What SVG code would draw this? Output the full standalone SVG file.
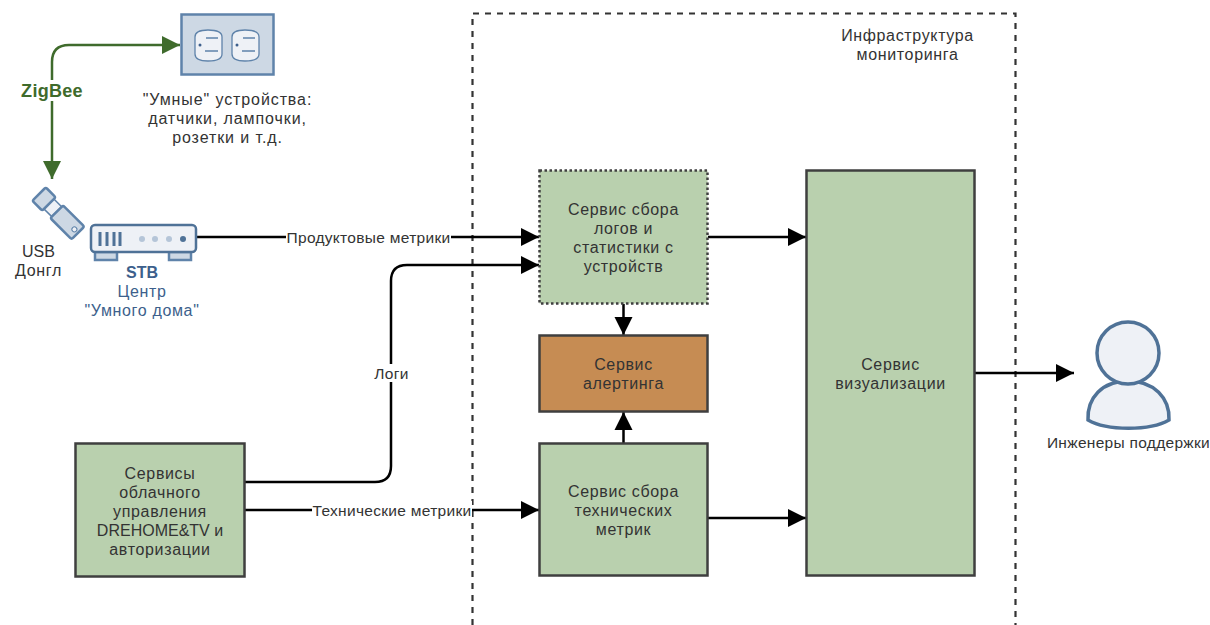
<svg xmlns="http://www.w3.org/2000/svg" width="1210" height="625" viewBox="0 0 1210 625">
<defs>
<style>
text{font-family:"Liberation Sans",Arial,sans-serif;font-size:16px;fill:#333;text-anchor:middle;letter-spacing:.65px}
.e{font-size:15.500px;letter-spacing:.3px}
.d{letter-spacing:.9px}
.n{letter-spacing:0}
.box{fill:#b9d0ae;stroke:#3f3f3f;stroke-width:2.500}
.c{fill:none;stroke:#000;stroke-width:2.500}
.g{fill:none;stroke:#3f6b2c;stroke-width:2.500}
.ic{fill:#eef1f6;stroke:#4f7297;stroke-width:2.500}
.bl{fill:#cdd8e4;stroke:#5f83aa;stroke-width:2.500}
.lb{fill:#fff;stroke:none}
.blue{fill:#3d5f8c}
</style>
<marker id="a" markerUnits="userSpaceOnUse" markerWidth="19" markerHeight="20" refX="18" refY="10" orient="auto"><path d="M0 1L18 10L0 19Z" fill="#000"/></marker>
<marker id="ag" markerUnits="userSpaceOnUse" markerWidth="19" markerHeight="20" refX="18" refY="10" orient="auto"><path d="M0 1L18 10L0 19Z" fill="#3f6b2c"/></marker>
</defs>
<rect width="1210" height="625" fill="#fff"/>
<path id="infra-frame" d="M472.500 625V13.500H1015.500V625" fill="none" stroke="#333" stroke-width="2.200" stroke-dasharray="6 6"/>
<g id="connectors">
<path class="g" d="M52 100V62Q52 45 69 45H180" marker-end="url(#ag)"/>
<path class="g" d="M52 100V179" marker-end="url(#ag)"/>
<path class="c" d="M196 237H539" marker-end="url(#a)"/>
<path class="c" d="M245 482H375Q391 482 391 466V281Q391 265 407 265H539" marker-end="url(#a)"/>
<path class="c" d="M245 510H539" marker-end="url(#a)"/>
<path class="c" d="M708 237H806" marker-end="url(#a)"/>
<path class="c" d="M708 518H806" marker-end="url(#a)"/>
<path class="c" d="M623.500 304V335" marker-end="url(#a)"/>
<path class="c" d="M623.500 443V412" marker-end="url(#a)"/>
<path class="c" d="M975 373H1074" marker-end="url(#a)"/>
</g>
<g id="edge-labels">
<rect class="lb" x="18" y="80" width="68" height="21"/>
<text x="52" y="97" style="font-weight:bold;font-size:18px;letter-spacing:.3px;fill:#3f6b2c">ZigBee</text>
<rect class="lb" x="286" y="228" width="165" height="18"/>
<text class="e" x="368.500" y="242.500">Продуктовые метрики</text>
<rect class="lb" x="373" y="364" width="37" height="18"/>
<text class="e" x="391.500" y="378.500">Логи</text>
<rect class="lb" x="312" y="501" width="160" height="18"/>
<text class="e" x="392" y="515.500">Технические метрики</text>
</g>
<text x="907.500" y="41">Инфраструктура</text>
<text x="907.500" y="60">мониторинга</text>
<g id="smart-devices">
<rect class="bl" x="181.500" y="14.500" width="92" height="60"/>
<path class="ic" d="M195 37Q195 30 208 30Q222 30 222 37V54Q222 61 208 61Q195 61 195 54Z" style="stroke-width:1.300;stroke:#5f83aa"/>
<path class="ic" d="M232 37Q232 30 245 30Q259 30 259 37V54Q259 61 245 61Q232 61 232 54Z" style="stroke-width:1.300;stroke:#5f83aa"/>
<path d="M206 38H218M205 51H218M243 38H255M242 51H255" stroke="#5f83aa" stroke-width="1.500" fill="none"/>
<circle cx="200" cy="45" r="1.500" fill="#3d5f8c"/><circle cx="237" cy="45" r="1.500" fill="#3d5f8c"/>
<text class="d" x="227.500" y="105">"Умные" устройства:</text>
<text class="d" x="227.500" y="124">датчики, лампочки,</text>
<text class="d" x="227.500" y="143">розетки и т.д.</text>
</g>
<g id="usb-dongle">
<g transform="translate(44 199) rotate(45)">
<rect x="7" y="-7" width="11" height="14" fill="#eef1f6" stroke="#5f83aa" stroke-width="1.500"/>
<rect class="bl" x="-7" y="-9.500" width="14" height="19" rx="2" stroke-width="2"/>
<rect class="bl" x="18" y="-9" width="30" height="18" rx="2" stroke-width="2"/>
<circle cx="43" cy="0" r="2.500" fill="#eef1f6" stroke="#5f83aa"/>
</g>
<text class="n" x="38.500" y="257">USB</text>
<text x="38.500" y="276">Донгл</text>
</g>
<g id="stb">
<rect class="bl" x="95" y="252" width="22" height="8" stroke-width="2"/>
<rect class="bl" x="169" y="252" width="22" height="8" stroke-width="2"/>
<rect class="ic" x="91" y="225" width="105" height="27" rx="4"/>
<path d="M100 232V246M107 232V246M114 232V246M120 232V246" stroke="#4f7297" stroke-width="3"/>
<circle cx="142" cy="239" r="3" fill="#b5c5d8"/><circle cx="155" cy="239" r="3" fill="#b5c5d8"/><circle cx="169" cy="239" r="3" fill="#b5c5d8"/><circle cx="183" cy="239" r="3" fill="#4f7297"/>
<text class="blue n" x="142" y="278" style="font-weight:bold">STB</text>
<text class="blue" x="142" y="297">Центр</text>
<text class="blue" x="142" y="316">"Умного дома"</text>
</g>
<g id="cloud-services">
<rect class="box" x="75.500" y="443.500" width="169" height="133"/>
<text x="160" y="479">Сервисы</text>
<text x="160" y="498">облачного</text>
<text x="160" y="517">управления</text>
<text class="n" x="160" y="536">DREHOME&amp;TV и</text>
<text x="160" y="555">авторизации</text>
</g>
<g id="log-service">
<rect class="box" x="539.500" y="170.500" width="168" height="133" stroke-dasharray="2.500 2.500"/>
<text x="623.500" y="215">Сервис сбора</text>
<text x="623.500" y="234">логов и</text>
<text x="623.500" y="253">статистики с</text>
<text x="623.500" y="272">устройств</text>
</g>
<g id="alert-service">
<rect class="box" x="539.500" y="335.500" width="168" height="76" style="fill:#c68c53"/>
<text x="623.500" y="370">Сервис</text>
<text x="623.500" y="389">алертинга</text>
</g>
<g id="tech-service">
<rect class="box" x="539.500" y="443.500" width="168" height="132"/>
<text x="623.500" y="497">Сервис сбора</text>
<text x="623.500" y="516">технических</text>
<text x="623.500" y="535">метрик</text>
</g>
<g id="viz-service">
<rect class="box" x="806.500" y="170.500" width="168" height="405"/>
<text x="890.500" y="370">Сервис</text>
<text x="890.500" y="389">визуализации</text>
</g>
<g id="engineers">
<path class="ic" d="M1088 420C1087 398 1102 381 1128 381C1154 381 1170 398 1169 420C1150 431 1107 431 1088 420Z" style="stroke-width:3.500"/>
<circle class="ic" cx="1128" cy="353" r="31" style="stroke-width:3.500"/>
<text class="e" x="1128.500" y="447.500">Инженеры поддержки</text>
</g>
</svg>
